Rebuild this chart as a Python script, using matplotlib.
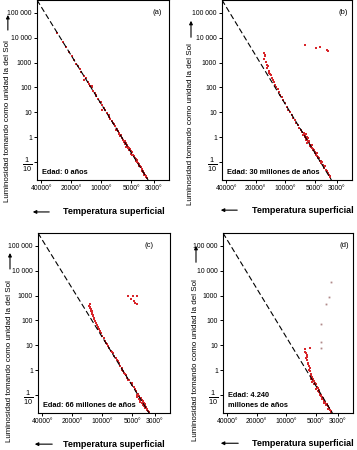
import matplotlib.pyplot as plt
from matplotlib.patches import FancyArrowPatch

plt.rcParams['font.family'] = ['Liberation Sans', 'DejaVu Sans']
plt.rcParams['mathtext.fontset'] = 'custom'
plt.rcParams['mathtext.rm'] = 'Liberation Sans'
plt.rcParams['mathtext.it'] = 'Liberation Sans:italic'
plt.rcParams['mathtext.bf'] = 'Liberation Sans:bold'

# ejes
x_ticks = [40000, 20000, 10000, 5000, 3000]
x_labels = ['40000°', '20000°', '10000°', '5000°', '3000°']
y_ticks = [1e5, 1e4, 1e3, 100, 10, 1, 0.1]
y_labels = ['100 000', '10 000', '1000', '100', '10', '1', r'$\frac{1}{10}$']

# secuencia principal (linea discontinua)
line_temp = [44000, 3400]
line_lum = [3.3e5, 0.019]

# (a) Edad: 0 años
a_temp = [27500, 24000, 22500, 21000, 19500, 18800, 18000, 17200, 16500, 15800,
          15000, 14300, 13600, 13000, 12500, 12100, 11600, 11200, 10800, 10300,
          9900, 9500, 9100, 8700, 8400, 8100, 7800, 7500, 7300, 7000,
          6800, 6600, 6400, 6200, 6000, 5850, 5700, 5550, 5400, 5250,
          5100, 4950, 4800, 4700, 4550, 4450, 4300, 4200, 4050, 3950,
          3850, 3750, 3650, 3550, 3480, 5600, 5300, 4900, 4600, 4350,
          4150, 3900, 3700, 6500, 7200, 9800, 12300, 14800, 5950, 6900,
          5000, 4400, 5800, 5450, 5150, 4750, 4500, 4250, 4100, 3800,
          3600, 6700, 7600, 8300, 10100, 11400, 13300]
a_lum = [1.6e4, 6500, 4200, 2600, 1800, 1300, 900, 760, 560, 420,
         300, 230, 160, 120, 100, 75, 60, 44, 36, 27,
         20, 15, 12, 9, 7.5, 5.5, 4.4, 3.4, 2.8, 2.2,
         1.7, 1.5, 1.2, 0.95, 0.8, 0.72, 0.6, 0.48, 0.4, 0.36,
         0.28, 0.25, 0.2, 0.17, 0.14, 0.115, 0.095, 0.08, 0.065, 0.055,
         0.045, 0.038, 0.031, 0.026, 0.022, 0.42, 0.31, 0.19, 0.15, 0.1,
         0.07, 0.045, 0.03, 1.1, 2.0, 13, 115, 200, 0.65, 1.9,
         0.21, 0.12, 0.55, 0.38, 0.33, 0.18, 0.13, 0.09, 0.07, 0.04,
         0.028, 1.4, 3.7, 6.5, 25, 52, 140]

# (b) Edad: 30 millones de años
b_temp = [16300, 16000, 16500, 15800, 15500, 15300, 14800, 14500, 14000, 13700,
          13300, 13000, 12700, 12300, 11900, 11600, 11200, 10900, 10500, 10100,
          9700, 9300, 9000, 8600, 8300, 8000, 7700, 7400, 7200, 6900,
          6700, 6500, 6300, 6100, 5950, 5800, 5650, 5500, 5350, 5200,
          5050, 4900, 4750, 4600, 4450, 4300, 4150, 4000, 3850, 3700,
          3600, 3500, 5700, 5400, 6000, 6200, 5100, 4800, 4500, 4200,
          3950, 6400, 6300, 6100, 6000, 5900, 6600, 5850, 5550, 5250,
          4950, 4650, 4350, 4050, 3750, 3550, 15100, 14200, 16200]
b_lum = [2500, 1800, 1400, 1100, 800, 600, 480, 400, 310, 250,
         200, 160, 130, 105, 85, 65, 50, 40, 30, 23,
         17, 13, 10, 8, 6, 4.8, 3.9, 3.0, 2.4, 2.0,
         1.6, 1.3, 1.1, 0.9, 0.75, 0.62, 0.5, 0.42, 0.36, 0.3,
         0.25, 0.2, 0.17, 0.14, 0.11, 0.09, 0.075, 0.06, 0.048, 0.036,
         0.03, 0.024, 0.7, 0.5, 1.0, 1.3, 0.32, 0.24, 0.15, 0.1,
         0.07, 1.5, 1.0, 0.8, 0.6, 0.9, 1.2, 0.68, 0.45, 0.34,
         0.23, 0.16, 0.11, 0.07, 0.042, 0.027, 700, 360, 2100]
b_giant_temp = [6300, 4900, 4400, 3800, 3650]
b_giant_lum = [5000, 3800, 4300, 3200, 3000]

# (c) Edad: 66 millones de años
c_temp = [13200, 13400, 13000, 13100, 12800, 12600, 12400, 12200, 12000, 11800,
          11600, 11400, 11100, 10900, 10600, 10300, 10000, 9700, 9400, 9100,
          8800, 8500, 8200, 7900, 7600, 7300, 7000, 6800, 6600, 6400,
          6200, 6000, 5800, 5600, 5400, 5200, 5000, 4850, 4700, 4550,
          4400, 4250, 4100, 3950, 3850, 3750, 3650, 3550, 3450, 3380,
          4300, 4150, 4000, 3900, 3800, 3700, 3600, 4500, 4450, 4200,
          13600, 12900, 12700, 4650, 4350, 4050, 3750, 3500, 5100, 5500,
          5900, 6300, 7100, 8000, 9000, 11000, 12500, 13300]
c_lum = [440, 350, 300, 250, 220, 180, 150, 130, 110, 95,
         80, 68, 55, 46, 38, 30, 24, 19, 15, 12,
         9.5, 7.5, 6, 4.8, 3.8, 3.0, 2.4, 1.9, 1.5, 1.2,
         0.95, 0.78, 0.62, 0.5, 0.4, 0.32, 0.26, 0.21, 0.17, 0.14,
         0.11, 0.09, 0.075, 0.06, 0.05, 0.042, 0.034, 0.028, 0.023, 0.02,
         0.07, 0.06, 0.048, 0.04, 0.035, 0.03, 0.025, 0.1, 0.085, 0.055,
         400, 280, 240, 0.15, 0.1, 0.065, 0.035, 0.022, 0.3, 0.42,
         0.7, 1.05, 2.6, 5.5, 11, 52, 160, 320]
c_giant_temp = [5540, 4930, 4500, 5130, 4860, 4680, 4500]
c_giant_lum = [940, 1000, 940, 760, 615, 525, 445]

# (d) Edad: 4.240 millones de años
d_temp = [6460, 5750, 6300, 6100, 6200, 6000, 5900, 5800, 5700, 5600,
          5500, 5350, 5200, 5100, 5000, 4900, 4800, 4700, 4600, 4500,
          4400, 4300, 4200, 4100, 4000, 3900, 3800, 3700, 3600, 3500,
          5650, 5450, 5250, 4950, 4750, 4550, 4350, 4150, 3950, 3750,
          6350, 6050, 5850, 4850, 4650, 4450, 4250, 4050, 3850, 3650,
          3550, 5300, 5550, 6150, 6500]
d_lum = [7, 7.5, 5, 3.5, 2.6, 2.0, 1.5, 1.2, 0.9, 0.7,
         0.55, 0.45, 0.38, 0.32, 0.27, 0.22, 0.19, 0.16, 0.13, 0.11,
         0.095, 0.08, 0.068, 0.058, 0.05, 0.043, 0.036, 0.03, 0.025, 0.021,
         0.45, 0.35, 0.28, 0.18, 0.14, 0.1, 0.07, 0.05, 0.04, 0.028,
         3.0, 1.8, 1.0, 0.2, 0.15, 0.1, 0.075, 0.055, 0.04, 0.027,
         0.022, 0.36, 0.6, 4.2, 5.5]
d_giant_temp = [4470, 4450, 4450, 3960, 3720, 3550]
d_giant_lum = [7.6, 14, 70, 440, 850, 3500]

red = '#d8262b'
fig = plt.figure(figsize=(3.57, 4.5), dpi=100)

panels = [
    ([37 / 357, 0.6, 132 / 357, 0.4], a_temp, a_lum, [], [], '(a)', 0.91,
     'Edad: 0 años'),
    ([222 / 357, 0.6, 130 / 357, 0.4], b_temp, b_lum, b_giant_temp, b_giant_lum,
     '(b)', 0.93, 'Edad: 30 millones de años'),
    ([38 / 357, 0.0822, 132 / 357, 0.4], c_temp, c_lum, c_giant_temp, c_giant_lum,
     '(c)', 0.84, 'Edad: 66 millones de años'),
    ([223 / 357, 0.0822, 130 / 357, 0.4], d_temp, d_lum, [], [], '(d)', 0.93,
     'Edad: 4.240\nmillones de años'),
]

for i, (rect, tx, lx, gx, gy, tag, tag_x, edad) in enumerate(panels):
    ax = fig.add_axes(rect)
    ax.set_xscale('log')
    ax.set_yscale('log')
    ax.plot(tx, lx, ls='none', marker='s', ms=1.8, mew=0, color=red, zorder=2)
    if gx:
        ax.plot(gx, gy, ls='none', marker='s', ms=1.6, mew=0, color=red, zorder=2)
    if i == 3:
        ax.plot(d_giant_temp, d_giant_lum, ls='none', marker='s', ms=1.3, mew=0,
                color='#b08a8a', zorder=2)
    ax.plot(line_temp, line_lum, color='black', lw=0.8, ls=(0, (5, 2.5)), zorder=3)
    ax.set_xlim(44000, 2100)
    ax.set_ylim(0.019, 3.3e5)
    ax.minorticks_off()
    ax.set_xticks(x_ticks)
    ax.set_xticklabels(x_labels)
    ax.set_yticks(y_ticks)
    ax.set_yticklabels(y_labels)
    ax.tick_params(labelsize=4.9, length=2.2, width=0.7, pad=1.5, direction='out')
    ax.get_yticklabels()[-1].set_fontsize(7.5)
    for s in ax.spines.values():
        s.set_linewidth(0.8)
    ax.text(tag_x, 0.93, tag, transform=ax.transAxes, ha='center', va='center',
            fontsize=5.5)
    ax.text(0.04, 0.025, edad, transform=ax.transAxes, ha='left', va='bottom',
            fontsize=5.3, fontweight='bold', linespacing=1.5)

# etiquetas del eje y con flecha
ylab = 'Luminosidad tomando como unidad la del Sol'
for x, yc, y0, y1 in [(0.022, 0.731, 0.927, 0.973), (0.535, 0.724, 0.911, 0.96),
                      (0.028, 0.198, 0.396, 0.444), (0.549, 0.2, 0.411, 0.46)]:
    fig.text(x, yc, ylab, rotation=90, ha='center', va='center', fontsize=5.8)
    fig.add_artist(FancyArrowPatch((x, y0), (x, y1), transform=fig.transFigure,
                                   arrowstyle='-|>', mutation_scale=5, lw=0.8,
                                   color='black'))

# etiquetas del eje x con flecha
xlab = 'Temperatura superficial'
for xc, y, x0, x1 in [(0.318, 0.529, 52 / 357, 30 / 357), (0.847, 0.533, 240 / 357, 218 / 357),
                      (0.318, 0.013, 55 / 357, 32 / 357), (0.847, 0.015, 241 / 357, 218 / 357)]:
    fig.text(xc, y, xlab, ha='center', va='center', fontsize=6.5, fontweight='bold')
    fig.add_artist(FancyArrowPatch((x0, y), (x1, y), transform=fig.transFigure,
                                   arrowstyle='-|>', mutation_scale=5, lw=0.8,
                                   color='black'))

plt.savefig('out.png', dpi=100)
